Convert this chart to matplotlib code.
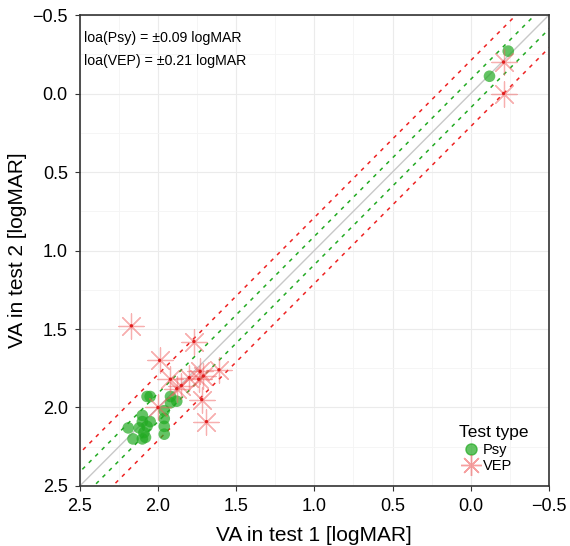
import numpy as np
import matplotlib
matplotlib.use("Agg")
import matplotlib.pyplot as plt
from matplotlib.lines import Line2D

plt.rcParams['font.family'] = ['Liberation Sans', 'DejaVu Sans']

# Psy measurements (test1, test2) in logMAR
psy_t1 = [-0.24, -0.12, 2.07, 2.05, 1.92, 1.88, 1.92, 1.96, 1.96, 1.96, 1.96,
          2.10, 2.10, 2.05, 2.12, 2.07, 2.09, 2.19, 2.16, 2.08, 2.10]
psy_t2 = [-0.27, -0.11, 1.93, 1.93, 1.93, 1.96, 1.97, 2.02, 2.07, 2.12, 2.17,
          2.05, 2.09, 2.09, 2.13, 2.12, 2.16, 2.13, 2.20, 2.19, 2.20]
# VEP measurements
vep_t1 = [-0.21, -0.21, 2.17, 1.77, 1.99, 1.61, 1.73, 1.71, 1.74, 1.80, 1.92,
          1.88, 1.85, 1.72, 2.00, 1.69]
vep_t2 = [-0.20, 0.00, 1.48, 1.58, 1.70, 1.76, 1.77, 1.80, 1.82, 1.81, 1.82,
          1.88, 1.86, 1.95, 2.00, 2.09]

loa_psy = 0.09
loa_vep = 0.21
lims = [2.5, -0.5]
ticks = [2.5, 2.0, 1.5, 1.0, 0.5, 0.0, -0.5]
tick_labels = ['2.5', '2.0', '1.5', '1.0', '0.5', '0.0', '\u22120.5']

fig = plt.figure(figsize=(5.70, 5.46), dpi=100)
ax = fig.add_axes([0.140, 0.1099, 0.823, 0.8626])

xx = np.array([-1.0, 3.0])
ax.plot(xx, xx, color='#c8c8c8', lw=1.0, zorder=1)
for s in (1, -1):
    ax.plot(xx, xx + s * loa_psy, color='#22aa22', lw=1.1, ls=(0, (2.5, 3.5)), zorder=2)
    ax.plot(xx, xx + s * loa_vep, color='#ee2222', lw=1.1, ls=(0, (2.5, 3.5)), zorder=2)

ax.scatter(psy_t1, psy_t2, s=70, color='#22aa22', alpha=0.7, edgecolors='none', zorder=3)
ax.scatter(vep_t1, vep_t2, s=330, marker=(8, 2, 0), color='#f06060', alpha=0.5,
           linewidths=0.9, zorder=4)
ax.scatter(vep_t1, vep_t2, s=6, color='#e02020', edgecolors='none', zorder=5)

ax.set_xlim(lims)
ax.set_ylim(lims)
ax.set_xticks(ticks)
ax.set_yticks(ticks)
ax.set_xticklabels(tick_labels)
ax.set_yticklabels(tick_labels)
ax.set_xticks(np.arange(-0.25, 2.5, 0.5), minor=True)
ax.set_yticks(np.arange(-0.25, 2.5, 0.5), minor=True)
ax.grid(True, which='major', color='#ebebeb', lw=0.8)
ax.grid(True, which='minor', color='#f4f4f4', lw=0.6)
ax.tick_params(which='minor', length=0)
ax.tick_params(which='major', labelsize=13, length=3.6, pad=5, color='#333333',
               labelcolor='black')
ax.set_axisbelow(True)
for sp in ax.spines.values():
    sp.set_color('#333333')
    sp.set_linewidth(1.2)

ax.set_xlabel('VA in test 1 [logMAR]', fontsize=15, labelpad=8)
ax.set_ylabel('VA in test 2 [logMAR]', fontsize=15, labelpad=4)

ax.text(0.010, 0.965, 'loa(Psy) = \u00b10.09 logMAR', transform=ax.transAxes,
        fontsize=10.2, va='top', ha='left')
ax.text(0.010, 0.918, 'loa(VEP) = \u00b10.21 logMAR', transform=ax.transAxes,
        fontsize=10.2, va='top', ha='left')

handles = [Line2D([], [], ls='none', marker='o', color='#22aa22', alpha=0.7, markersize=8),
           Line2D([], [], ls='none', marker=(8, 2, 0), color='#f06060', alpha=0.6,
                  markersize=15)]
leg = ax.legend(handles, ['Psy', 'VEP'], title='Test type', loc='lower right',
                bbox_to_anchor=(0.985, 0.0), frameon=False, fontsize=10.5,
                title_fontsize=12.5, handletextpad=0.0, labelspacing=0.15,
                handlelength=1.6)
leg._legend_box.align = 'left'

fig.savefig('out.png', dpi=100)
